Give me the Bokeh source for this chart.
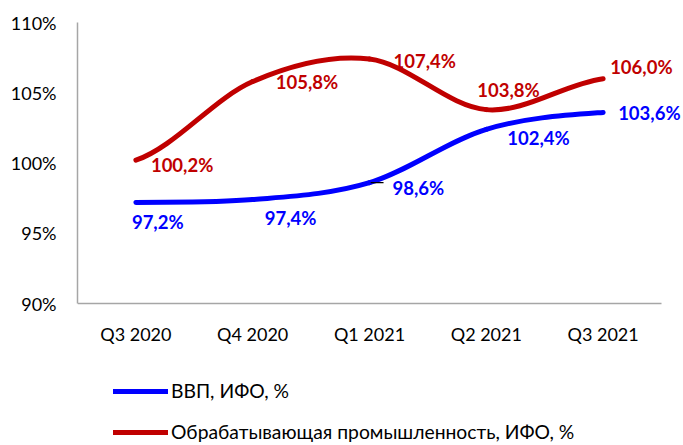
import numpy as np
from bokeh.plotting import figure
from bokeh.models import Range1d, FixedTicker, Legend, LegendItem, ColumnDataSource
from bokeh.core.properties import value
from bokeh.embed import file_html
from bokeh.resources import INLINE

categories = ["Q3 2020", "Q4 2020", "Q1 2021", "Q2 2021", "Q3 2021"]
gdp = [97.2, 97.4, 98.6, 102.4, 103.6]
manuf = [100.2, 105.8, 107.4, 103.8, 106.0]
gdp_name = "ВВП, ИФО, %"
manuf_name = "Обрабатывающая промышленность, ИФО, %"
y_ticks = [90, 95, 100, 105, 110]
y_tick_labels = ["90%", "95%", "100%", "105%", "110%"]

BLUE = "#0000FF"
RED = "#C00000"
FONT = "Lato"

# frame: x 77..683 px, y 22..445 px; 116.8 px per category, 14.05 px per %
p = figure(width=683, height=445, output_backend="svg", toolbar_location=None,
           x_range=Range1d(-0.5, 4.688), y_range=Range1d(79.9, 110),
           min_border_left=77, min_border_right=0, min_border_top=22,
           min_border_bottom=0)
p.outline_line_color = None
p.xgrid.visible = False
p.ygrid.visible = False
p.background_fill_color = "white"
p.border_fill_color = "white"


def smooth_source(ys):
    ys = np.asarray(ys, dtype=float)
    n = len(ys)
    xs = np.arange(n, dtype=float)
    m = np.zeros(n)
    for i in range(n):
        a = ys[max(i - 1, 0)]
        b = ys[min(i + 1, n - 1)]
        m[i] = (b - a) / 2.0
    return ColumnDataSource(dict(
        x0=xs[:-1], y0=ys[:-1], x1=xs[1:], y1=ys[1:],
        cx0=xs[:-1] + 1 / 3, cy0=ys[:-1] + m[:-1] / 3,
        cx1=xs[1:] - 1 / 3, cy1=ys[1:] - m[1:] / 3,
    ))


r_gdp = p.bezier(x0="x0", y0="y0", x1="x1", y1="y1", cx0="cx0", cy0="cy0",
                 cx1="cx1", cy1="cy1", source=smooth_source(gdp),
                 line_color=BLUE, line_width=5, line_cap="round")
r_man = p.bezier(x0="x0", y0="y0", x1="x1", y1="y1", cx0="cx0", cy0="cy0",
                 cx1="cx1", cy1="cy1", source=smooth_source(manuf),
                 line_color=RED, line_width=5, line_cap="round")

# leader line for 98,6%
p.segment(x0=[2 + 0.01], x1=[2 + 0.12], y0=[gdp[2]], y1=[gdp[2]],
          line_color="black", line_width=1.2)


def fmt(v):
    return f"{v:.1f}%".replace(".", ",")


man_dx = [15, 23, 24, -9, 7]
man_dy = [5, 0, 2, -20, -12]
gdp_dx = [-4, 12, 23, 21, 15]
gdp_dy = [20, 18, 5, 9, 1]

p.text(x=list(range(len(categories))), y=manuf, text=[fmt(v) for v in manuf],
       x_offset=man_dx, y_offset=man_dy, text_color=RED,
       text_font=value(FONT), text_font_style="bold", text_font_size="18.5px",
       text_align="left", text_baseline="middle")
p.text(x=list(range(len(categories))), y=gdp, text=[fmt(v) for v in gdp],
       x_offset=gdp_dx, y_offset=gdp_dy, text_color=BLUE,
       text_font=value(FONT), text_font_style="bold", text_font_size="18.5px",
       text_align="left", text_baseline="middle")

# axes
p.xaxis.ticker = FixedTicker(ticks=list(range(len(categories))))
p.xaxis.major_label_overrides = {i: c for i, c in enumerate(categories)}
p.xaxis.fixed_location = 90
p.xaxis.bounds = (-0.5, 4.5)
p.yaxis.ticker = FixedTicker(ticks=y_ticks)
p.yaxis.major_label_overrides = {t: l for t, l in zip(y_ticks, y_tick_labels)}
p.yaxis.bounds = (90, 110)
for ax in (p.xaxis, p.yaxis):
    ax.axis_line_color = "#A6A6A6"
    ax.axis_line_width = 1.5
    ax.major_tick_line_color = None
    ax.minor_tick_line_color = None
    ax.major_tick_out = 0
    ax.major_tick_in = 0
    ax.major_label_text_font = FONT
    ax.major_label_text_font_size = "18px"
    ax.major_label_text_color = "#000000"
p.yaxis.major_label_standoff = 21
p.xaxis.major_label_standoff = 19

legend = Legend(items=[LegendItem(label=gdp_name, renderers=[r_gdp]),
                       LegendItem(label=manuf_name, renderers=[r_man])],
                location=(36, 2), orientation="vertical",
                glyph_width=55, glyph_height=20, label_height=20,
                label_standoff=3, spacing=18, padding=0, margin=0,
                border_line_alpha=0, background_fill_alpha=0,
                label_text_font=FONT, label_text_font_size="19.3px",
                label_text_color="#000000")
p.add_layout(legend)

open("out.html", "w").write(file_html(p, INLINE))
